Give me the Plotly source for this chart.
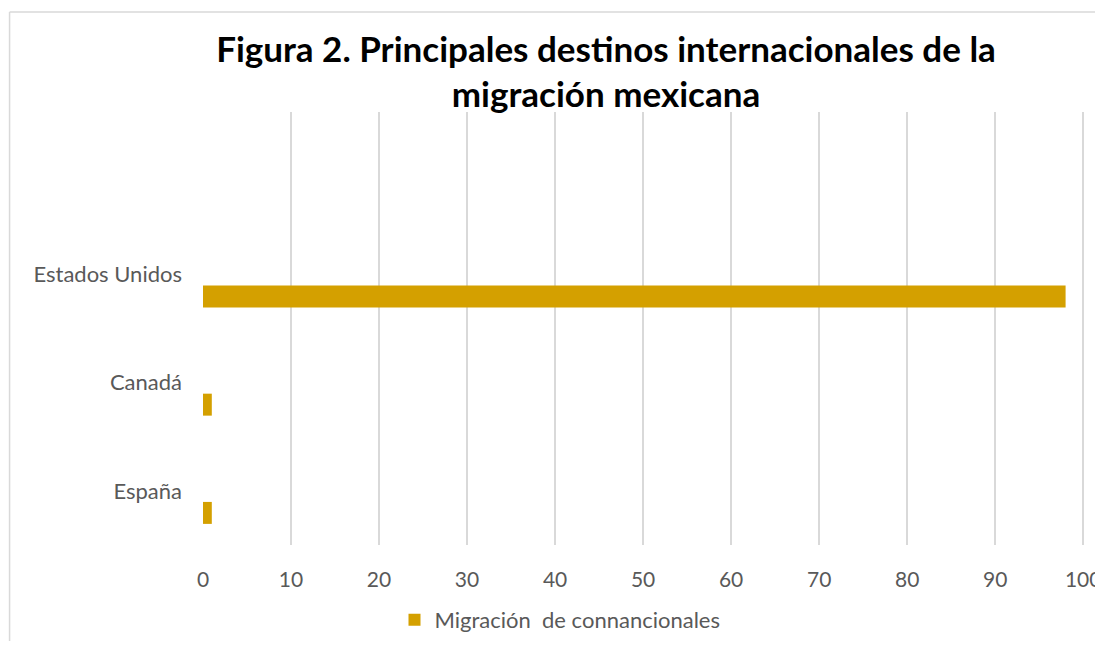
import plotly.graph_objects as go

categories = ["España", "Canadá", "Estados Unidos"]
values = [1, 1, 98]
series_name = "Migración  de connancionales"
title_text = "Figura 2. Principales destinos internacionales de la<br>migración mexicana"
x_ticks = [0, 10, 20, 30, 40, 50, 60, 70, 80, 90, 100]

# page body margin is 8px; work in figure pixels
OFF = 8
W, H = 1103 - OFF, 649 - 2 * OFF
XMAX = 101
PXU = (1083 - 202.5) / 100.0
L, R, T, B = 202.5 - OFF, 1083 + (XMAX - 100) * PXU - OFF, 112 - OFF, 545 - OFF

fig = go.Figure()
fig.add_trace(go.Bar(
    x=values, y=categories, orientation="h", name=series_name,
    marker=dict(color="#D4A000", line=dict(width=0)),
    width=0.203, offset=-0.305,
))

def px_x(p):
    return (p - OFF - L) / (R - L)

def px_y(p):
    return (B - (p - OFF)) / (B - T)

fig.update_layout(
    width=W, height=H,
    margin=dict(l=L, r=max(W - R, 0), t=T, b=H - B, autoexpand=False),
    paper_bgcolor="white", plot_bgcolor="white",
    font=dict(family="Lato, Open Sans, sans-serif", color="#595959", size=22),
    title=dict(text=title_text, x=(606 - OFF) / W, xanchor="center", y=1 - (61.5 - OFF) / H, yanchor="middle",
               font=dict(family="Lato, sans-serif", size=35, color="#000000", weight="bold")),
    xaxis=dict(range=[0, XMAX], tickvals=x_ticks, showgrid=True, gridcolor="#d9d9d9", gridwidth=1.5,
               zeroline=False, showline=False, ticks="", ticklabelstandoff=20,
               tickfont=dict(size=21, color="#595959"), fixedrange=True),
    yaxis=dict(type="category", categoryorder="array", categoryarray=categories,
               range=[-0.5, 3.5], showgrid=False, zeroline=False, showline=False, ticks="",
               ticklabelstandoff=20, tickfont=dict(size=22, color="#595959")),
    showlegend=True,
    legend=dict(orientation="h", x=(560 - OFF) / W, xref="container", xanchor="center",
                y=1 - (620 - OFF) / H, yref="container", yanchor="middle",
                font=dict(size=22, color="#595959"), itemwidth=30),
    shapes=[
        dict(type="line", xref="paper", yref="paper", x0=px_x(9), x1=px_x(1120), y0=px_y(12), y1=px_y(12),
             line=dict(color="#d9d9d9", width=1.5)),
        dict(type="line", xref="paper", yref="paper", x0=px_x(9), x1=px_x(9), y0=px_y(12), y1=px_y(670),
             line=dict(color="#d9d9d9", width=1.5)),
    ],
)

fig.write_html("out.html")
